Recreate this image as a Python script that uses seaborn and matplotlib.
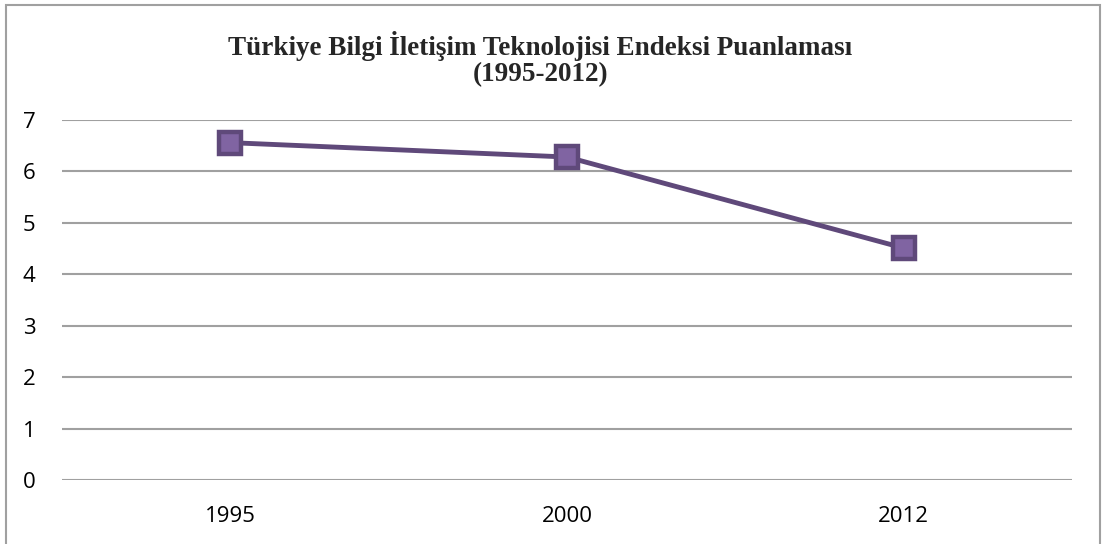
import matplotlib
matplotlib.use("Agg")
import matplotlib.pyplot as plt
import seaborn as sns
import pandas as pd
from matplotlib.patches import Rectangle

years = ["1995", "2000", "2012"]
scores = [6.56, 6.28, 4.51]
y_ticks = [0, 1, 2, 3, 4, 5, 6, 7]
title = "Türkiye Bilgi İletişim Teknolojisi Endeksi Puanlaması\n(1995-2012)"

df = pd.DataFrame({"year": years, "score": scores})

sns.set_style("white")
plt.rcParams["font.family"] = ["Open Sans", "DejaVu Sans"]

fig = plt.figure(figsize=(11.03, 5.44), dpi=100)
ax = fig.add_axes([0.0562, 0.1176, 0.9158, 0.6618])

sns.lineplot(data=df, x="year", y="score", ax=ax, color="#5F497A", linewidth=3.5,
             marker="s", markersize=15.5, markerfacecolor="#8064A2",
             markeredgecolor="#5F497A", markeredgewidth=3.2, zorder=3)

ax.set_xlim(-0.5, 2.5)
ax.set_ylim(0, 7)
ax.set_yticks(y_ticks)
ax.yaxis.grid(True, color="#A0A0A0", linewidth=1.5)
ax.set_axisbelow(True)
for s in ax.spines.values():
    s.set_visible(False)
ax.tick_params(axis="both", length=0, labelsize=16, colors="black")
ax.tick_params(axis="y", pad=19)
ax.tick_params(axis="x", pad=19)
ax.set_xlabel("")
ax.set_ylabel("")

fig.text(0.49, 0.891, title, ha="center", va="center", fontsize=19.5, fontweight="bold",
         family=["Liberation Serif", "DejaVu Serif"], linespacing=1.05)

fig.patches.append(Rectangle((0.0055, -0.01), 0.992, 1.0, transform=fig.transFigure,
                             fill=False, edgecolor="#A0A0A0", linewidth=1.5))

fig.savefig("out.png", dpi=100)
